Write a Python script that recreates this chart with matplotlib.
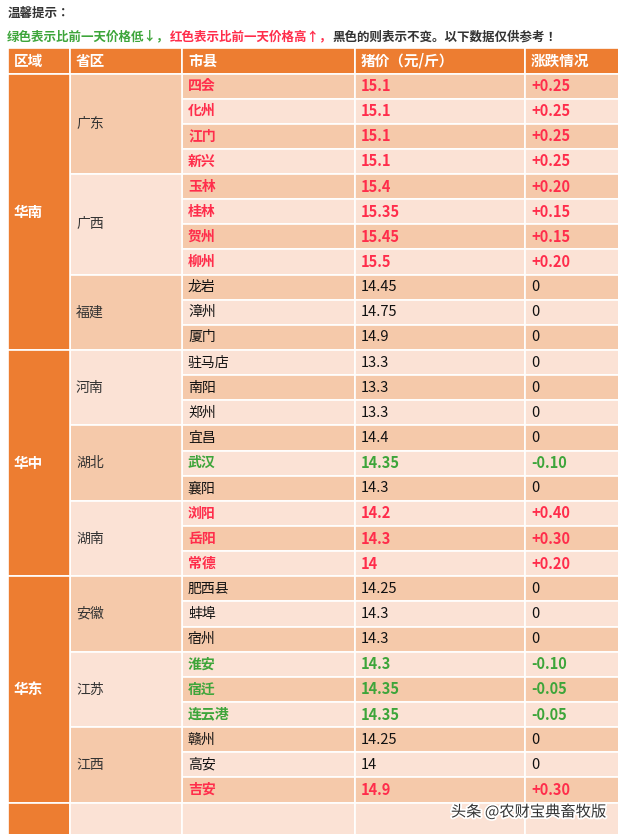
import matplotlib
matplotlib.use("Agg")
import matplotlib.pyplot as plt
import matplotlib.patheffects as pe
from matplotlib.patches import Rectangle

plt.rcParams["font.family"] = ["Noto Sans CJK JP", "Noto Sans CJK SC", "DejaVu Sans"]

# data
regions = [("华南", 11), ("华中", 9), ("华东", 9)]
provinces = [("广东", 4), ("广西", 4), ("福建", 3), ("河南", 3), ("湖北", 3),
             ("湖南", 3), ("安徽", 3), ("江苏", 3), ("江西", 3)]
cities = ["四会", "化州", "江门", "新兴", "玉林", "桂林", "贺州", "柳州", "龙岩", "漳州",
          "厦门", "驻马店", "南阳", "郑州", "宜昌", "武汉", "襄阳", "浏阳", "岳阳", "常德",
          "肥西县", "蚌埠", "宿州", "淮安", "宿迁", "连云港", "赣州", "高安", "吉安"]
prices = ["15.1", "15.1", "15.1", "15.1", "15.4", "15.35", "15.45", "15.5", "14.45", "14.75",
          "14.9", "13.3", "13.3", "13.3", "14.4", "14.35", "14.3", "14.2", "14.3", "14",
          "14.25", "14.3", "14.3", "14.3", "14.35", "14.35", "14.25", "14", "14.9"]
changes = ["+0.25", "+0.25", "+0.25", "+0.25", "+0.20", "+0.15", "+0.15", "+0.20", "0", "0",
           "0", "0", "0", "0", "0", "-0.10", "0", "+0.40", "+0.30", "+0.20",
           "0", "0", "0", "-0.10", "-0.05", "-0.05", "0", "0", "+0.30"]
headers = ["区域", "省区", "市县", "猪价（元/斤）", "涨跌情况"]

ORANGE = "#ED7D31"
DARK = "#F5C9AA"
LIGHT = "#FBE2D5"
RED = "#FF2D4B"
GREEN = "#3DA53A"

W, H = 618, 834
fig = plt.figure(figsize=(W / 100, H / 100), dpi=100)
ax = fig.add_axes([0, 0, 1, 1])
ax.set_xlim(0, W)
ax.set_ylim(H, 0)
ax.axis("off")

cols = [8, 70, 182, 355, 525, 625]
head_top, top, rh = 48, 73.5, 25.14


def cell(x0, x1, y0, y1, color):
    ax.add_patch(Rectangle((x0, y0), x1 - x0, y1 - y0, facecolor=color,
                           edgecolor="white", linewidth=1.2))


ax.text(8, 13, "温馨提示：", fontsize=9, fontweight="bold", color="#333333", va="center")
parts = [("绿色表示比前一天价格低↓，", GREEN), ("红色表示比前一天价格高↑，", RED),
         ("黑色的则表示不变。以下数据仅供参考！", "#333333")]
x = 7
for s, c in parts:
    t = ax.text(x, 37, s, fontsize=9, fontweight="bold", color=c, va="center")
    fig.canvas.draw()
    x += t.get_window_extent().width

for i, h in enumerate(headers):
    cell(cols[i], cols[i + 1], head_top, top, ORANGE)
    ax.text(cols[i] + 6, (head_top + top) / 2, h, fontsize=10.5, fontweight="bold",
            color="white", va="center")

for i, c in enumerate(cities):
    y0 = top + i * rh
    bg = DARK if i % 2 == 0 else LIGHT
    for j in (2, 3, 4):
        cell(cols[j], cols[j + 1], y0, y0 + rh, bg)
    ch = changes[i]
    if ch.startswith("+"):
        color, wt = RED, "bold"
    elif ch.startswith("-"):
        color, wt = GREEN, "bold"
    else:
        color, wt = "#111111", "normal"
    yc = y0 + rh / 2
    ax.text(cols[2] + 6, yc, c, fontsize=10, color=color, fontweight=wt, va="center")
    ax.text(cols[3] + 6, yc, prices[i], fontsize=10.5, color=color, fontweight=wt, va="center")
    ax.text(cols[4] + 6, yc, ch, fontsize=10.5, color=color, fontweight=wt, va="center")

r = 0
for k, (p, n) in enumerate(provinces):
    y0, y1 = top + r * rh, top + (r + n) * rh
    cell(cols[1], cols[2], y0, y1, DARK if k % 2 == 0 else LIGHT)
    ax.text(cols[1] + 6, (y0 + y1) / 2, p, fontsize=10, color="#333333", va="center")
    r += n

r = 0
for name, n in regions:
    y0, y1 = top + r * rh, top + (r + n) * rh
    cell(cols[0], cols[1], y0, y1, ORANGE)
    ax.text(cols[0] + 6, (y0 + y1) / 2, name, fontsize=10.5, fontweight="bold",
            color="white", va="center")
    r += n

# partial next row at bottom
yb = top + len(cities) * rh
cell(cols[0], cols[1], yb, H + 5, ORANGE)
for j in (1, 2, 3, 4):
    cell(cols[j], cols[j + 1], yb, H + 5, LIGHT)

ax.text(606, 812, "头条 @农财宝典畜牧版", fontsize=11, color="#333333", ha="right", va="center",
        path_effects=[pe.withStroke(linewidth=2.5, foreground="white")])

fig.savefig("out.png", dpi=100)
